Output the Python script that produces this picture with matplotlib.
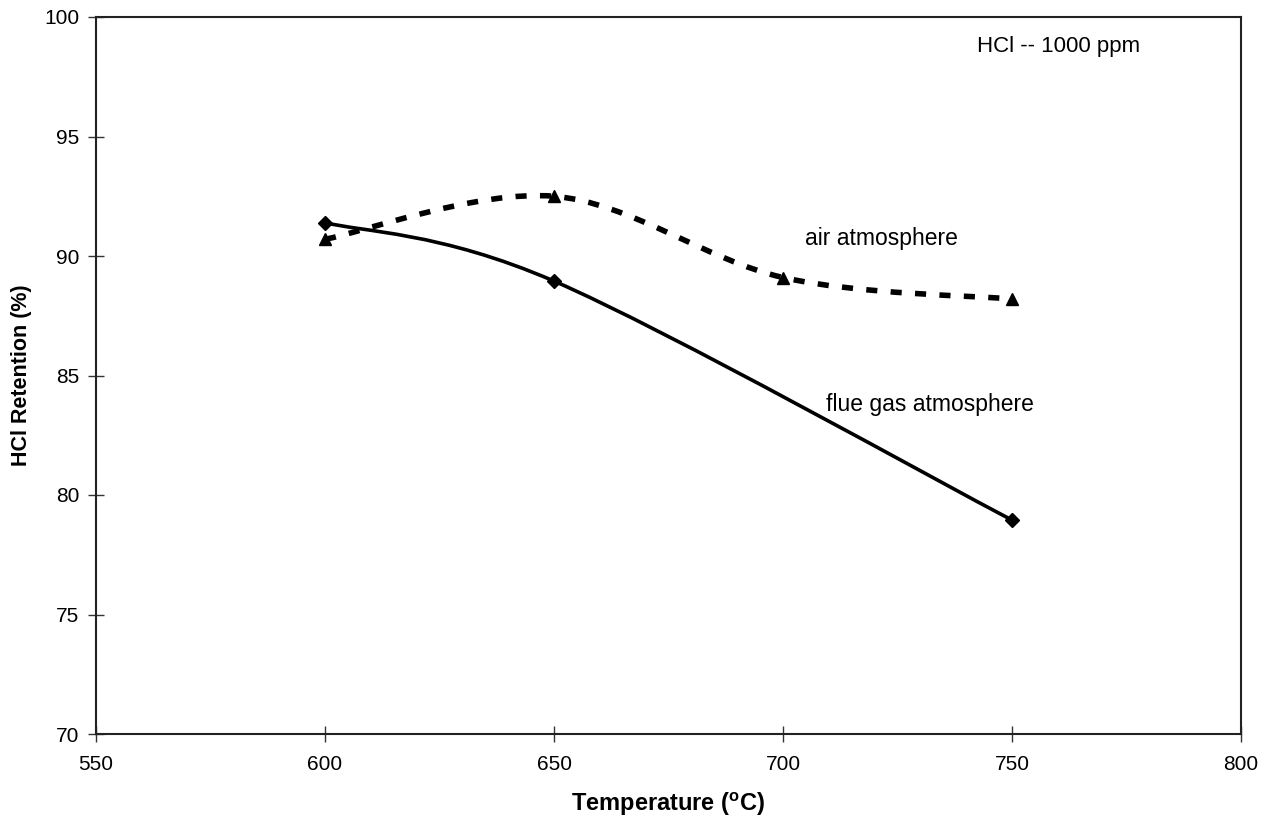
import matplotlib.pyplot as plt
from matplotlib.path import Path
from matplotlib.patches import PathPatch

plt.rcParams['font.family'] = ['Liberation Sans', 'DejaVu Sans']

# data
temp_flue = [600, 650, 750]
ret_flue = [91.4, 88.95, 78.95]
temp_air = [600, 650, 700, 750]
ret_air = [90.7, 92.5, 89.1, 88.2]


def smooth_path(xs, ys):
    # Excel-style smoothed line: cubic Bezier through the points
    pts = list(zip(xs, ys))
    n = len(pts)
    verts = [pts[0]]
    codes = [Path.MOVETO]
    for i in range(n - 1):
        p0 = pts[i - 1] if i > 0 else pts[i]
        p1 = pts[i]
        p2 = pts[i + 1]
        p3 = pts[i + 2] if i + 2 < n else pts[i + 1]
        c1 = (p1[0] + (p2[0] - p0[0]) / 6, p1[1] + (p2[1] - p0[1]) / 6)
        c2 = (p2[0] - (p3[0] - p1[0]) / 6, p2[1] - (p3[1] - p1[1]) / 6)
        verts += [c1, c2, p2]
        codes += [Path.CURVE4] * 3
    return Path(verts, codes)


fig = plt.figure(figsize=(12.65, 8.19), dpi=100)
ax = fig.add_axes([96 / 1265, 1 - 734 / 819, (1241 - 96) / 1265, (734 - 17) / 819])

ax.add_patch(PathPatch(smooth_path(temp_flue, ret_flue), fill=False,
                       edgecolor='black', lw=2.6, zorder=2))
ax.add_patch(PathPatch(smooth_path(temp_air, ret_air), fill=False,
                       edgecolor='black', lw=4, linestyle=(0, (2.0, 2.4)), zorder=2))
ax.plot(temp_flue, ret_flue, linestyle='none', marker='D', ms=7, color='black', zorder=3)
ax.plot(temp_air, ret_air, linestyle='none', marker='^', ms=9, color='black', zorder=3)

ax.set_xlim(550, 800)
ax.set_ylim(70, 100)
ax.set_xticks([550, 600, 650, 700, 750, 800])
ax.set_yticks([70, 75, 80, 85, 90, 95, 100])
ax.tick_params(direction='inout', length=12, width=1, labelsize=15, colors='#333333',
               labelcolor='black')
ax.tick_params(axis='x', pad=9)
ax.tick_params(axis='y', pad=6)
for s in ax.spines.values():
    s.set_linewidth(1.5)
    s.set_color('#222222')

ax.set_xlabel(r'Temperature ($^\mathregular{o}$C)', fontsize=17, fontweight='bold', labelpad=12)
ax.set_ylabel('HCl Retention (%)', fontsize=15.5, fontweight='bold', labelpad=9)

ax.text(742.4, 98.75, 'HCl -- 1000 ppm', fontsize=16, va='center')
ax.text(704.8, 90.75, 'air atmosphere', fontsize=16.5, va='center')
ax.text(709.4, 83.8, 'flue gas atmosphere', fontsize=16.5, va='center')

fig.savefig('out.png', dpi=100)
